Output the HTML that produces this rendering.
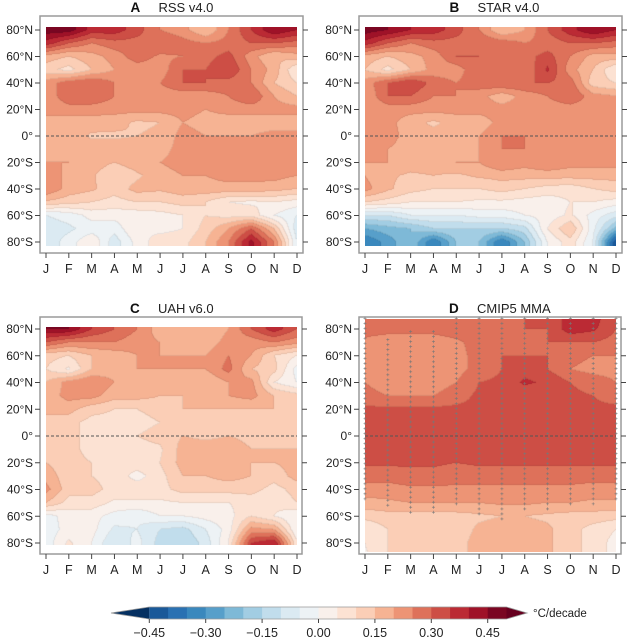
<!DOCTYPE html>
<html><head><meta charset="utf-8"><style>
body{margin:0;background:#fff;width:628px;height:640px;position:relative;overflow:hidden;font-family:"Liberation Sans",sans-serif;}
svg{position:absolute;left:0;top:0}
canvas{position:absolute}
</style></head><body>
<canvas id="cA"></canvas>
<canvas id="cB"></canvas>
<canvas id="cC"></canvas>
<canvas id="cD"></canvas>
<svg id="ov" width="628" height="640"></svg>
<script>
const months=["J","F","M","A","M","J","J","A","S","O","N","D"];
const latTicks=["80°N","60°N","40°N","20°N","0°","20°S","40°S","60°S","80°S"];
const cbTicks=[-0.45,-0.30,-0.15,0.00,0.15,0.30,0.45];
const latsObs=[80,70,60,50,40,30,20,10,0,-10,-20,-30,-40,-50,-60,-70,-80];
const latsMod=[90,80,70,60,50,40,30,20,10,0,-10,-20,-30,-40,-50,-60,-70,-80,-90];
const rss=[
[.48,.48,.38,.38,.32,.25,.22,.15,.25,.35,.45,.40],
[.38,.30,.25,.28,.28,.30,.27,.25,.27,.30,.30,.28],
[.18,.15,.18,.22,.28,.24,.25,.28,.32,.22,.15,.18],
[.12,.08,.15,.20,.22,.22,.30,.30,.35,.25,.18,.05],
[.22,.28,.30,.25,.20,.25,.30,.30,.28,.25,.15,.10],
[.20,.30,.30,.25,.22,.22,.22,.22,.25,.30,.20,.15],
[.20,.22,.22,.22,.22,.22,.22,.20,.22,.22,.22,.22],
[.20,.18,.18,.17,.14,.15,.20,.18,.17,.17,.17,.17],
[.20,.20,.14,.14,.15,.16,.22,.20,.20,.20,.22,.22],
[.20,.17,.18,.18,.18,.18,.22,.22,.22,.22,.22,.22],
[.20,.20,.18,.15,.18,.20,.22,.22,.22,.22,.22,.22],
[.25,.18,.16,.10,.14,.18,.20,.20,.22,.22,.22,.20],
[.25,.18,.16,.12,.17,.16,.18,.18,.18,.18,.17,.15],
[.14,.12,.10,.08,.10,.10,.12,.10,.05,.04,.05,.03],
[-.05,-.03,.02,.02,.02,.03,.05,.10,.08,.08,.00,-.05],
[-.08,-.06,-.03,-.03,.05,.03,.05,.12,.20,.30,.15,-.08],
[-.08,-.03,.05,-.08,.02,.08,.08,.15,.25,.42,.25,-.05]];
const star=[
[.48,.45,.40,.38,.32,.25,.15,.20,.30,.38,.45,.40],
[.38,.30,.25,.28,.28,.30,.28,.25,.27,.30,.30,.28],
[.18,.15,.18,.22,.30,.30,.25,.28,.32,.25,.18,.18],
[.15,.08,.15,.22,.22,.30,.30,.25,.36,.22,.15,.05],
[.22,.30,.35,.28,.25,.28,.30,.30,.30,.28,.12,.10],
[.20,.30,.30,.25,.25,.22,.17,.22,.25,.30,.22,.20],
[.20,.22,.22,.22,.22,.22,.22,.22,.22,.22,.22,.25],
[.20,.22,.17,.14,.17,.17,.22,.20,.20,.22,.22,.22],
[.22,.22,.18,.17,.17,.20,.25,.25,.20,.22,.22,.22],
[.22,.20,.18,.18,.18,.20,.25,.25,.22,.22,.22,.22],
[.20,.20,.18,.18,.20,.20,.25,.22,.25,.22,.22,.22],
[.20,.16,.14,.15,.14,.16,.17,.17,.17,.17,.17,.17],
[.22,.16,.12,.10,.10,.10,.12,.10,.08,.07,.10,.12],
[.10,.08,.05,.05,.05,.04,.04,.03,.02,.05,.05,.03],
[-.10,-.10,-.05,-.05,-.05,-.03,-.03,.00,.02,.06,-.02,-.08],
[-.25,-.22,-.20,-.15,-.15,-.15,-.15,-.12,.05,.15,-.03,-.22],
[-.35,-.28,-.20,-.35,-.20,-.20,-.35,-.20,.00,.08,-.05,-.45]];
const uah=[
[.45,.45,.35,.30,.25,.17,.15,.15,.20,.30,.38,.30],
[.30,.25,.25,.25,.22,.20,.15,.17,.22,.22,.25,.22],
[.12,.10,.15,.17,.20,.20,.20,.20,.25,.20,.10,.05],
[.10,.04,.15,.18,.20,.20,.20,.20,.27,.15,.12,-.02],
[.15,.22,.25,.20,.17,.17,.15,.15,.20,.22,.05,.00],
[.17,.22,.22,.17,.17,.15,.15,.15,.20,.22,.15,.12],
[.15,.17,.12,.10,.10,.12,.15,.15,.15,.15,.15,.15],
[.15,.12,.08,.08,.08,.10,.14,.14,.14,.14,.14,.14],
[.15,.12,.08,.08,.10,.12,.15,.14,.15,.14,.14,.14],
[.15,.12,.08,.08,.08,.09,.17,.17,.17,.15,.15,.15],
[.15,.12,.10,.08,.08,.10,.17,.17,.20,.15,.15,.17],
[.18,.12,.10,.08,.03,.08,.15,.15,.17,.15,.12,.17],
[.22,.12,.12,.08,.08,.08,.12,.12,.12,.12,.08,.12],
[.15,.08,.08,.04,.04,.04,.05,.05,.05,.07,.06,.10],
[-.02,.02,.02,-.02,-.04,.00,.00,.02,.03,.10,.05,.00],
[-.03,.02,.02,-.06,-.05,-.10,-.12,-.05,.02,.22,.20,.00],
[-.03,.06,.00,-.10,-.03,-.12,-.15,-.08,.05,.35,.40,.06]];
const cmip=[
[.28,.28,.28,.28,.28,.28,.28,.30,.30,.38,.38,.30],
[.27,.27,.27,.27,.28,.28,.28,.30,.30,.38,.36,.30],
[.24,.22,.22,.22,.24,.27,.28,.28,.30,.30,.30,.28],
[.22,.20,.22,.22,.23,.27,.30,.30,.30,.27,.25,.25],
[.22,.20,.22,.22,.23,.27,.30,.33,.30,.25,.23,.23],
[.25,.22,.22,.22,.25,.30,.31,.36,.34,.30,.28,.25],
[.27,.25,.25,.25,.28,.31,.31,.31,.31,.31,.30,.28],
[.31,.31,.31,.31,.31,.31,.31,.31,.31,.31,.31,.31],
[.31,.31,.31,.31,.31,.31,.31,.31,.31,.31,.31,.31],
[.31,.31,.31,.31,.31,.31,.31,.31,.31,.31,.31,.31],
[.31,.31,.31,.31,.31,.31,.31,.31,.31,.31,.31,.31],
[.31,.31,.31,.31,.30,.31,.31,.31,.31,.31,.31,.31],
[.27,.27,.28,.28,.27,.27,.27,.27,.27,.27,.27,.27],
[.23,.23,.24,.24,.24,.24,.24,.24,.24,.24,.23,.23],
[.18,.19,.20,.20,.20,.20,.21,.21,.20,.20,.19,.19],
[.12,.13,.13,.13,.13,.14,.15,.15,.14,.13,.13,.12],
[.05,.10,.12,.12,.12,.16,.17,.17,.16,.12,.08,.05],
[.05,.10,.12,.12,.13,.17,.18,.18,.16,.12,.08,.03],
[.04,.10,.12,.12,.13,.17,.18,.18,.16,.12,.08,.03]];
const stippleLatMax=[88,72,78,78,88,88,88,88,88,88,88,88];
const stippleLatMin=[-50,-52,-58,-58,-52,-60,-62,-58,-58,-52,-52,-50];

const anchors=["#053061","#2166ac","#4393c3","#92c5de","#d1e5f0","#f7f7f7","#fddbc7","#f4a582","#d6604d","#b2182b","#67001f"];
function hex(h){return [1,3,5].map(i=>parseInt(h.substr(i,2),16));}
const anc=anchors.map(hex);
function cmap(v){let t=(v+0.5)/0.1;t=Math.max(0,Math.min(10,t));let i=Math.min(9,Math.floor(t)),f=t-i;return anc[i].map((c,k)=>Math.round(c+(anc[i+1][k]-c)*f));}
function binOf(v){let b=Math.floor(v/0.05+1e-9);return Math.max(-10,Math.min(9,b));}
function binColor(b){return cmap((b+0.5)*0.05);}
const panels=[
 {id:"cA",data:rss,lats:latsObs,fx:40,fy:16,fw:263,fh:237,dx0:46,dx1:297,dy0:27,dy1:246,y80:30,y80s:242,title:"RSS v4.0",L:"A",name:"rss"},
 {id:"cB",data:star,lats:latsObs,fx:359,fy:16,fw:263,fh:237,dx0:365,dx1:616,dy0:27,dy1:246,y80:30,y80s:242,title:"STAR v4.0",L:"B",name:"star"},
 {id:"cC",data:uah,lats:latsObs,fx:40,fy:317,fw:262,fh:237,dx0:46,dx1:297,dy0:327,dy1:545,y80:329,y80s:543,title:"UAH v6.0",L:"C",name:"uah"},
 {id:"cD",data:cmip,lats:latsMod,fx:359,fy:317,fw:262,fh:237,dx0:365,dx1:616,dy0:319,dy1:552,y80:329,y80s:543,title:"CMIP5 MMA",L:"D",name:"cmip5"}];
function yOf(p,lat){return p.y80+(80-lat)/160*(p.y80s-p.y80);}
function xOf(p,m){return p.dx0+m/11*(p.dx1-p.dx0);}
function sample(p,m,lat){
 const L=p.lats;let la=Math.max(L[L.length-1],Math.min(L[0],lat));
 let r=0;while(r<L.length-2&&L[r+1]>la)r++;
 const fr=(L[r]-la)/(L[r]-L[r+1]);
 let mm=Math.max(0,Math.min(11,m));let c=Math.min(10,Math.floor(mm));const fc=mm-c;
 const d=p.data;
 const a=d[r][c]*(1-fc)+d[r][c+1]*fc, b=d[r+1][c]*(1-fc)+d[r+1][c+1]*fc;
 return a*(1-fr)+b*fr;}
const NS="http://www.w3.org/2000/svg";const ov=document.getElementById("ov");
function mk(tag,attrs,parent){const e=document.createElementNS(NS,tag);for(const k in attrs)e.setAttribute(k,attrs[k]);(parent||ov).appendChild(e);return e;}
panels.forEach(p=>{
 const cv=document.getElementById(p.id);const w=p.dx1-p.dx0,h=p.dy1-p.dy0;
 cv.width=w;cv.height=h;cv.style.left=p.dx0+"px";cv.style.top=p.dy0+"px";
 const ctx=cv.getContext("2d");const im=ctx.createImageData(w,h);
 const bins=new Int8Array(w*h);
 for(let y=0;y<h;y++)for(let x=0;x<w;x++){
  const px=p.dx0+x+0.5,py=p.dy0+y+0.5;
  const m=(px-p.dx0)/(p.dx1-p.dx0)*11;const lat=80-(py-p.y80)/(p.y80s-p.y80)*160;
  bins[y*w+x]=binOf(sample(p,m,lat));}
 for(let y=0;y<h;y++)for(let x=0;x<w;x++){
  const b=bins[y*w+x];let c=binColor(b);
  const edge=(x+1<w&&bins[y*w+x+1]!==b)||(y+1<h&&bins[(y+1)*w+x]!==b);
  if(edge)c=c.map(v=>Math.round(v*0.93));
  const i=(y*w+x)*4;im.data[i]=c[0];im.data[i+1]=c[1];im.data[i+2]=c[2];im.data[i+3]=255;}
 ctx.putImageData(im,0,0);
 const g=mk("g",{});
 
 
 const fr=mk("rect",{x:p.fx,y:p.fy,width:p.fw,height:p.fh,fill:"none",stroke:"#9a9a9a","stroke-width":1.5},g);
 
 
 const zl=mk("line",{x1:p.dx0,x2:p.dx1,y1:yOf(p,0),y2:yOf(p,0),stroke:"#555","stroke-width":0.9,"stroke-dasharray":"3,2"},g);
 
 
 const cx=(p.fx+p.fx+p.fw)/2;
 const tl=mk("text",{x:cx-41,y:p.fy-4,"font-size":13.5,"font-weight":"bold",fill:"#111"},g);tl.textContent=p.L;
 
 
 const tt=mk("text",{x:cx-13,y:p.fy-4,"font-size":13,fill:"#222"},g);tt.textContent=p.title;
 
 
 latTicks.forEach((t,i)=>{const y=yOf(p,80-i*20);
  mk("line",{x1:p.fx-5,x2:p.fx,y1:y,y2:y,stroke:"#444"},g);
  mk("line",{x1:p.fx+p.fw,x2:p.fx+p.fw+5,y1:y,y2:y,stroke:"#444"},g);
  const tx=mk("text",{x:p.fx-7,y:y+4,"font-size":12,"text-anchor":"end",fill:"#222"},g);tx.textContent=t;
  
  });
 months.forEach((t,i)=>{const x=xOf(p,i);
  mk("line",{x1:x,x2:x,y1:p.fy+p.fh,y2:p.fy+p.fh+5,stroke:"#444"},g);
  const tx=mk("text",{x:x,y:p.fy+p.fh+20,"font-size":12.5,"text-anchor":"middle",fill:"#222"},g);tx.textContent=t;
  
  });
 if(p.L==="D"){months.forEach((t,i)=>{const x=xOf(p,i);
  for(let lat=stippleLatMax[i];lat>=stippleLatMin[i];lat-=3.75){const y=yOf(p,lat);
   const s=mk("path",{d:`M${x-1.5},${y}h3M${x},${y-1.5}v3`,stroke:"#777","stroke-width":0.6},g);
   
   }});}
});
const cbX0=149.3,cbS=376,cbY=607,cbH=12;
function cbx(v){return cbX0+(v+0.45)*cbS;}
const cb=mk("g",{});


for(let b=-9;b<=9;b++){const lo=b*0.05;const c=cmap(lo+0.025);
 const r=mk("rect",{x:cbx(lo),y:cbY,width:cbS*0.05+0.5,height:cbH,fill:`rgb(${c})`},cb);
 
 }
const lc=cmap(-0.5),rc=cmap(0.5);
const tl=mk("polygon",{points:`${cbx(-0.45)},${cbY} 111,${cbY+cbH/2} ${cbx(-0.45)},${cbY+cbH}`,fill:`rgb(${lc})`},cb);


const tr=mk("polygon",{points:`${cbx(0.5)},${cbY} 527,${cbY+cbH/2} ${cbx(0.5)},${cbY+cbH}`,fill:`rgb(${rc})`},cb);


mk("polygon",{points:`${cbx(-0.45)},${cbY} 111,${cbY+cbH/2} ${cbx(-0.45)},${cbY+cbH} ${cbx(0.5)},${cbY+cbH} 527,${cbY+cbH/2} ${cbx(0.5)},${cbY}`,fill:"none",stroke:"#999","stroke-width":0.8},cb);
cbTicks.forEach(v=>{const x=cbx(v);mk("line",{x1:x,x2:x,y1:cbY+cbH,y2:cbY+cbH+4,stroke:"#444"},cb);
 const t=mk("text",{x:x,y:637,"font-size":12.5,"text-anchor":"middle",fill:"#222"},cb);t.textContent=(v<0?"\u2212":"")+Math.abs(v).toFixed(2);
 
 });
const un=mk("text",{x:533,y:617,"font-size":11.5,fill:"#222"},cb);un.textContent="°C/decade";


</script>
</body></html>
